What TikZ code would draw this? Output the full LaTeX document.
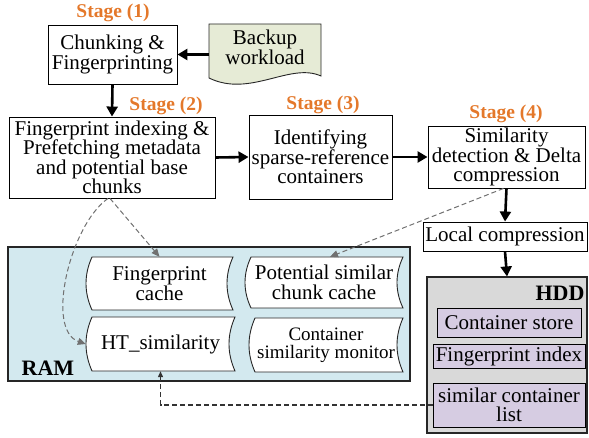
\documentclass[tikz,border=0pt]{standalone}
\usepackage{fontspec}
\setmainfont{Liberation Serif}
\usetikzlibrary{arrows.meta,calc}
\definecolor{stageor}{HTML}{E4782A}
\definecolor{ramblue}{HTML}{D3E9EF}
\definecolor{hddgray}{HTML}{D9D9D9}
\definecolor{lav}{HTML}{D6CCE2}
\definecolor{docgreen}{HTML}{E6EBD6}
\definecolor{dgray}{HTML}{707070}
\newcommand\mfs{\fontsize{21}{19.5}\selectfont}
\newcommand\sfs{\fontsize{19}{18}\selectfont}
\newcommand\stfs{\fontsize{19.5}{20}\selectfont\bfseries}
\tikzset{
  bx/.style={draw=black, line width=0.9pt, fill=white, align=center, inner sep=0pt, font=\mfs},
  stagelbl/.style={text=stageor, font=\stfs, inner sep=0pt},
  storeshp/.style={draw=black!85, line width=0.9pt, fill=white},
  storetxt/.style={align=center, inner sep=0pt, font=\mfs},
  flowarrow/.style={line width=2.6pt, -{Triangle[length=10pt,width=11pt]}},
  grayarrow/.style={draw=dgray, line width=1pt, dash pattern=on 5pt off 3pt, -{Triangle[length=8pt,width=7pt]}},
  blackarrow/.style={draw=black!80, line width=1.2pt, dash pattern=on 5pt off 3pt, -{Triangle[length=6pt,width=5pt]}},
}
% name, x1, y1, x2, y2, font, text
\newcommand\storednode[7]{%
  \path[storeshp] (#2+6,#3) -- (#4,#3)
    .. controls (#4-8,{#3+(#5-#3)/3}) and (#4-8,{#5-(#5-#3)/3}) .. (#4,#5)
    -- (#2+6,#5)
    .. controls (#2-2,{#5-(#5-#3)/3}) and (#2-2,{#3+(#5-#3)/3}) .. cycle;
  \node[storetxt, font=#6, minimum width={(#4-#2)*1pt}, minimum height={(#5-#3)*1pt}]
    (#1) at ({(#2+#4)/2},{(#3+#5)/2}) {#7};
}
\begin{document}
\begin{tikzpicture}[x=1pt,y=-1pt]
\useasboundingbox (0,0) rectangle (589,438);

% stage labels
\node[stagelbl] (st1) at (113,13) {Stage (1)};
\node[stagelbl] (st2) at (166,106) {Stage (2)};
\node[stagelbl] (st3) at (323,105) {Stage (3)};
\node[stagelbl] (st4) at (506,114) {Stage (4)};

% process boxes
\node[bx, minimum width=129pt, minimum height=59pt] (chk) at (112.5,54.5) {Chunking \&\\Fingerprinting};
\node[bx, minimum width=206pt, minimum height=81pt] (b2) at (112,157.5) {Fingerprint indexing \&\\Prefetching metadata\\and potential base\\chunks};
\node[bx, minimum width=143pt, minimum height=84pt] (b3) at (320.5,157) {Identifying\\sparse-reference\\containers};
\node[bx, minimum width=157pt, minimum height=62pt] (b4) at (506.5,157) {Similarity\\detection \& Delta\\compression};
\node[bx, minimum width=164pt, minimum height=29pt] (lc) at (505,236.5) {Local compression};

% backup workload document
\path[draw=black!85, line width=0.9pt, fill=docgreen]
  (209,24) -- (321,24) -- (321,76)
  .. controls (290,62) and (250,98) .. (209,78) -- cycle;
\node[align=center, inner sep=0pt, font=\fontsize{21}{18.5}\selectfont, minimum width=112pt, minimum height=54pt] (bw) at (265,47) {Backup\\workload};

% RAM
\node[draw=black!85, line width=1.1pt, fill=ramblue, minimum width=402pt, minimum height=134pt, inner sep=0pt] (ram) at (209,314) {};
\node[font=\fontsize{22}{22}\selectfont\bfseries, inner sep=0pt] (ramlbl) at (48,368) {RAM};
\storednode{fc}{86}{257}{233}{310}{\mfs}{Fingerprint\\cache}
\storednode{pscc}{245}{257}{403}{308}{\mfs}{Potential similar\\chunk cache}
\storednode{hts}{86}{317}{235}{371}{\mfs}{HT\_similarity}
\storednode{csm}{249}{318}{403}{372}{\sfs}{Container\\similarity monitor}

% HDD
\node[draw=black!85, line width=1.1pt, fill=hddgray, minimum width=160pt, minimum height=156pt, inner sep=0pt] (hdd) at (507,355) {};
\node[font=\fontsize{22}{22}\selectfont\bfseries, inner sep=0pt] (hddlbl) at (560,293) {HDD};
\node[bx, fill=lav, minimum width=144pt, minimum height=29pt] (cs) at (509,322.5) {Container store};
\node[bx, fill=lav, minimum width=152pt, minimum height=24pt] (fi) at (509,356) {Fingerprint index};
\node[bx, fill=lav, minimum width=152pt, minimum height=44pt] (scl) at (509,405) {similar container\\list};

% solid flow arrows
\draw[flowarrow] (bw.west |- chk.east) -- (chk.east);
\draw[flowarrow] (chk.south) -- (b2.north);
\draw[flowarrow] (b2.east) -- (b3.west);
\draw[flowarrow] (b3.east) -- (b4.west);
\draw[flowarrow] (b4.south) -- (lc.north);
\draw[flowarrow] (lc.south) -- (hdd.north);

% dashed connectors
\coordinate (b2a) at ($(b2.south)+(-2,0)$);
\coordinate (b2b) at ($(b2.south)+(-4,0)$);
\draw[grayarrow] (b2a) -- (fc.north);
\draw[grayarrow] (b2b) .. controls (70,225) and (45,330) .. (hts.west);
\coordinate (b4a) at ($(b4.south)+(-3,0)$);
\draw[grayarrow] (b4a) -- ($(pscc.north)+(6,0)$);
\draw[blackarrow] (scl.west) -| (hts.south);
\end{tikzpicture}
\end{document}
